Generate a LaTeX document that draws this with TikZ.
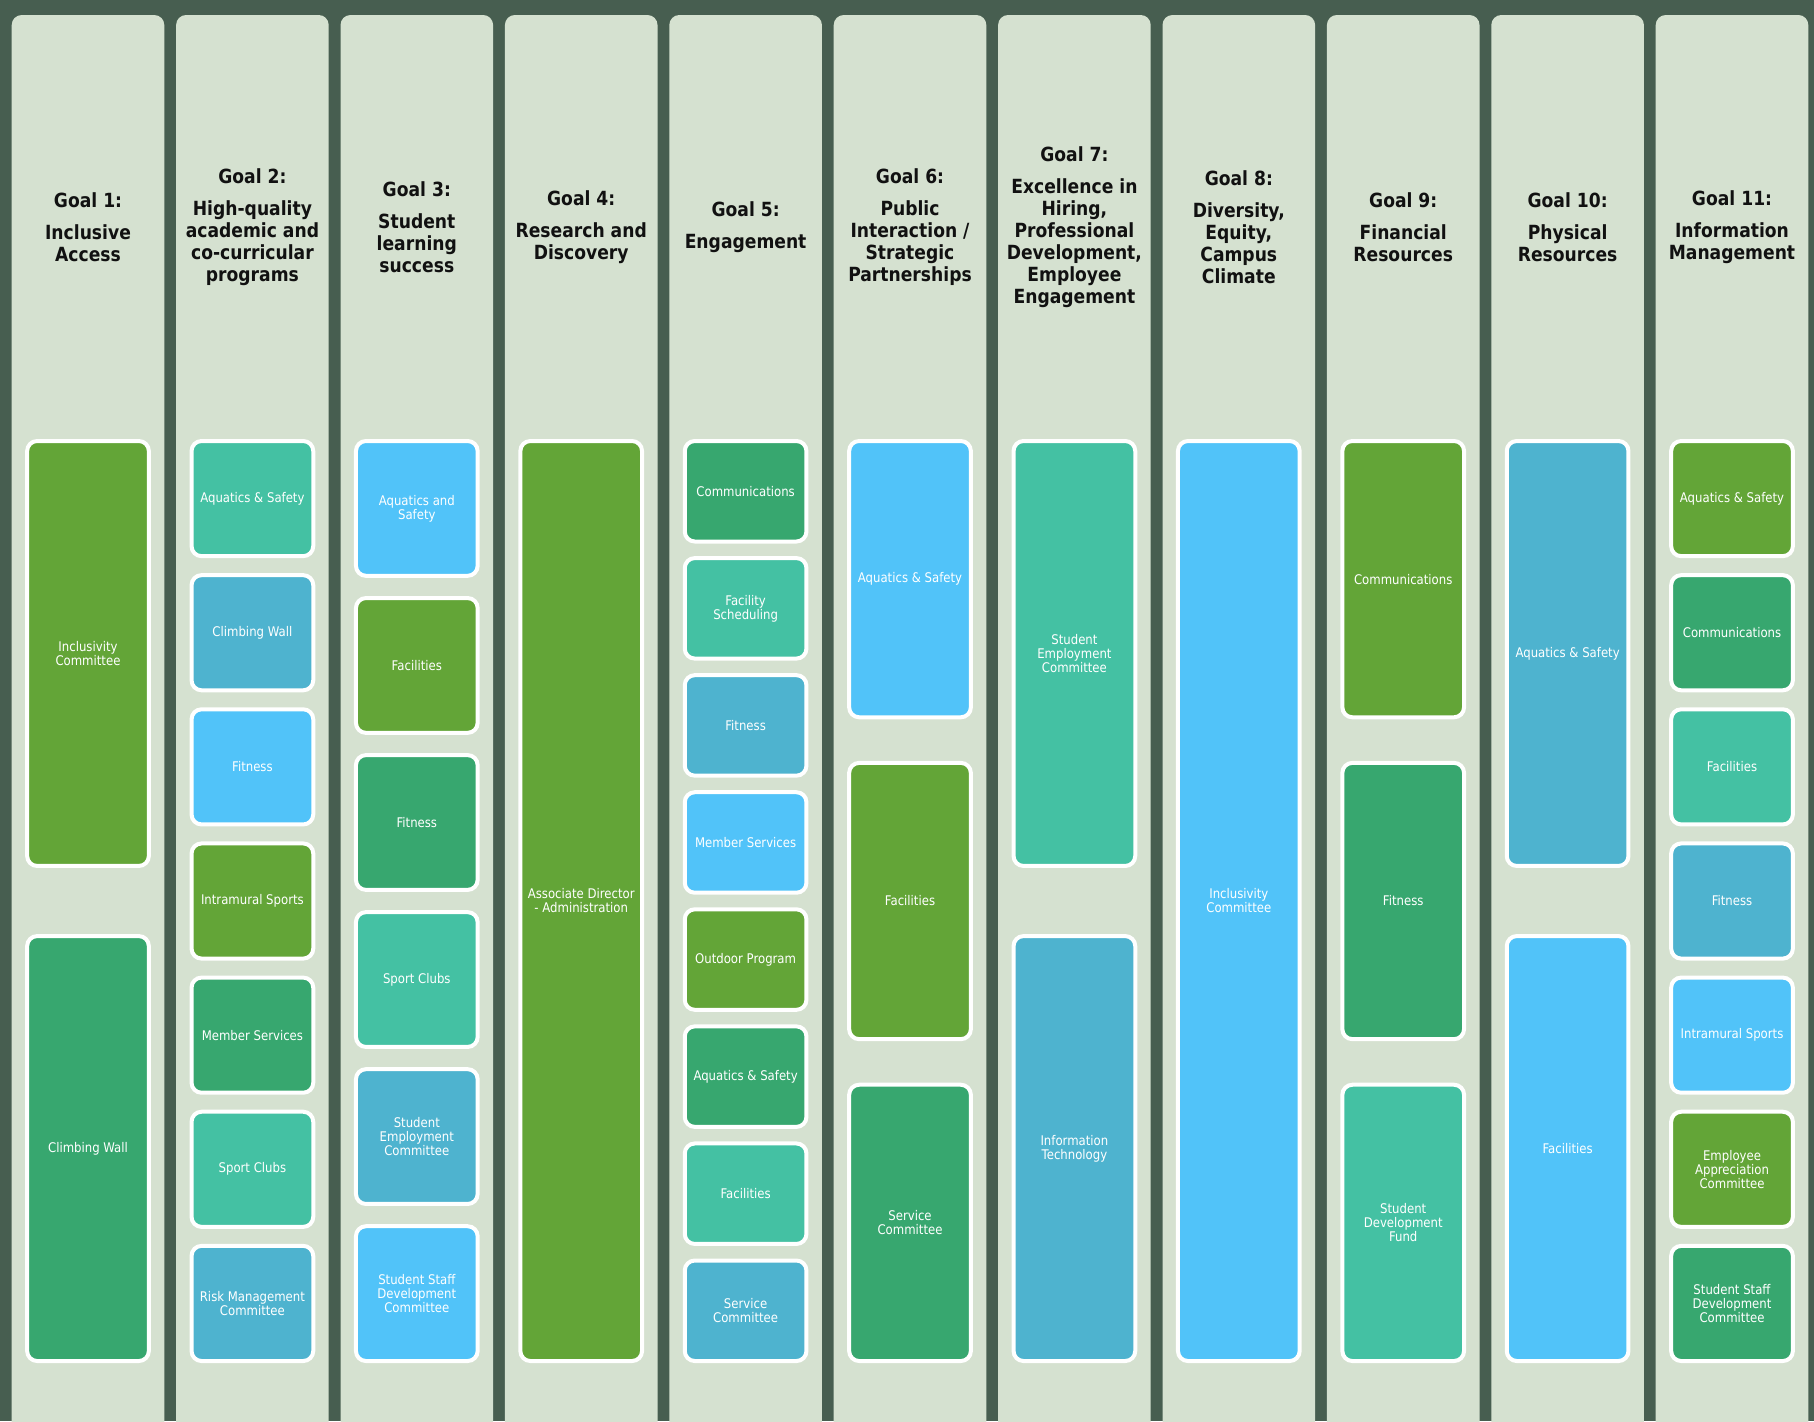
\documentclass[tikz,border=0pt]{standalone}
\usepackage{fontspec}
\newfontfamily\titlefont[FakeStretch=0.88]{DejaVu Sans}
\newfontfamily\boxfont[FakeStretch=0.88]{DejaVu Sans}
\definecolor{bgdark}{HTML}{475E50}
\definecolor{colfill}{HTML}{D5E1D0}
\definecolor{titlecol}{HTML}{111111}
\definecolor{cGreen}{HTML}{63A537}
\definecolor{cEmer}{HTML}{37A76F}
\definecolor{cTeal}{HTML}{44C1A3}
\definecolor{cBlue}{HTML}{4EB3CF}
\definecolor{cLight}{HTML}{51C3F9}
\tikzset{
  colbg/.style={rectangle, fill=colfill, rounded corners=5pt, minimum width=76.3pt, minimum height=717.5pt, inner sep=0pt},
  gtitle/.style={align=center, font=\titlefont\bfseries\fontsize{9.75}{11}\selectfont, text=titlecol, inner sep=0pt},
  gbox/.style={rectangle, draw=white, line width=2pt, rounded corners=5pt, minimum width=60.85pt, inner sep=0pt, align=center, text=white, font=\boxfont\fontsize{6.65}{7}\selectfont},
}
\newcommand\goalbox[5]{%
  \pgfmathsetmacro\gbH{920/(#2+0.165*(#2-1))}%
  \pgfmathsetmacro\gbY{441+\gbH/2+(#3-1)*1.165*\gbH}%
  \pgfmathsetmacro\gbX{88+164.4*(#1-1)}%
  \node[gbox, fill=#4, minimum height=\gbH*0.5pt] (c#1b#3) at (\gbX,\gbY) {#5};%
}
\begin{document}
\begin{tikzpicture}[x=0.5pt, y=-0.5pt]
\fill[bgdark] (0,0) rectangle (1814,1421);
\path[use as bounding box, clip] (0,0) rectangle (1814,1421);
\foreach \i in {1,...,11} {
  \node[colbg] (col\i) at ({88+164.4*(\i-1)},732.5) {};
}
% titles
\node[gtitle] (t1) at (88,227) {Goal 1:\\[5pt]Inclusive\\Access};
\node[gtitle] (t2) at (252.4,227) {Goal 2:\\[5pt]High-quality\\academic and\\co-curricular\\programs};
\node[gtitle] (t3) at (416.8,227) {Goal 3:\\[5pt]Student\\learning\\success};
\node[gtitle] (t4) at (581.2,227) {Goal 4:\\[5pt]Research and\\Discovery};
\node[gtitle] (t5) at (745.6,227) {Goal 5:\\[5pt]Engagement};
\node[gtitle] (t6) at (910,227) {Goal 6:\\[5pt]Public\\Interaction /\\Strategic\\Partnerships};
\node[gtitle] (t7) at (1074.4,227) {Goal 7:\\[5pt]Excellence in\\Hiring,\\Professional\\Development,\\Employee\\Engagement};
\node[gtitle] (t8) at (1238.8,227) {Goal 8:\\[5pt]Diversity,\\Equity,\\Campus\\Climate};
\node[gtitle] (t9) at (1403.2,227) {Goal 9:\\[5pt]Financial\\Resources};
\node[gtitle] (t10) at (1567.6,227) {Goal 10:\\[5pt]Physical\\Resources};
\node[gtitle] (t11) at (1732,227) {Goal 11:\\[5pt]Information\\Management};
% column 1
\goalbox{1}{2}{1}{cGreen}{Inclusivity\\Committee}
\goalbox{1}{2}{2}{cEmer}{Climbing Wall}
% column 2
\goalbox{2}{7}{1}{cTeal}{Aquatics \& Safety}
\goalbox{2}{7}{2}{cBlue}{Climbing Wall}
\goalbox{2}{7}{3}{cLight}{Fitness}
\goalbox{2}{7}{4}{cGreen}{Intramural Sports}
\goalbox{2}{7}{5}{cEmer}{Member Services}
\goalbox{2}{7}{6}{cTeal}{Sport Clubs}
\goalbox{2}{7}{7}{cBlue}{Risk Management\\Committee}
% column 3
\goalbox{3}{6}{1}{cLight}{Aquatics and\\Safety}
\goalbox{3}{6}{2}{cGreen}{Facilities}
\goalbox{3}{6}{3}{cEmer}{Fitness}
\goalbox{3}{6}{4}{cTeal}{Sport Clubs}
\goalbox{3}{6}{5}{cBlue}{Student\\Employment\\Committee}
\goalbox{3}{6}{6}{cLight}{Student Staff\\Development\\Committee}
% column 4
\goalbox{4}{1}{1}{cGreen}{Associate Director\\- Administration}
% column 5
\goalbox{5}{8}{1}{cEmer}{Communications}
\goalbox{5}{8}{2}{cTeal}{Facility\\Scheduling}
\goalbox{5}{8}{3}{cBlue}{Fitness}
\goalbox{5}{8}{4}{cLight}{Member Services}
\goalbox{5}{8}{5}{cGreen}{Outdoor Program}
\goalbox{5}{8}{6}{cEmer}{Aquatics \& Safety}
\goalbox{5}{8}{7}{cTeal}{Facilities}
\goalbox{5}{8}{8}{cBlue}{Service\\Committee}
% column 6
\goalbox{6}{3}{1}{cLight}{Aquatics \& Safety}
\goalbox{6}{3}{2}{cGreen}{Facilities}
\goalbox{6}{3}{3}{cEmer}{Service\\Committee}
% column 7
\goalbox{7}{2}{1}{cTeal}{Student\\Employment\\Committee}
\goalbox{7}{2}{2}{cBlue}{Information\\Technology}
% column 8
\goalbox{8}{1}{1}{cLight}{Inclusivity\\Committee}
% column 9
\goalbox{9}{3}{1}{cGreen}{Communications}
\goalbox{9}{3}{2}{cEmer}{Fitness}
\goalbox{9}{3}{3}{cTeal}{Student\\Development\\Fund}
% column 10
\goalbox{10}{2}{1}{cBlue}{Aquatics \& Safety}
\goalbox{10}{2}{2}{cLight}{Facilities}
% column 11
\goalbox{11}{7}{1}{cGreen}{Aquatics \& Safety}
\goalbox{11}{7}{2}{cEmer}{Communications}
\goalbox{11}{7}{3}{cTeal}{Facilities}
\goalbox{11}{7}{4}{cBlue}{Fitness}
\goalbox{11}{7}{5}{cLight}{Intramural Sports}
\goalbox{11}{7}{6}{cGreen}{Employee\\Appreciation\\Committee}
\goalbox{11}{7}{7}{cEmer}{Student Staff\\Development\\Committee}
\end{tikzpicture}
\end{document}
